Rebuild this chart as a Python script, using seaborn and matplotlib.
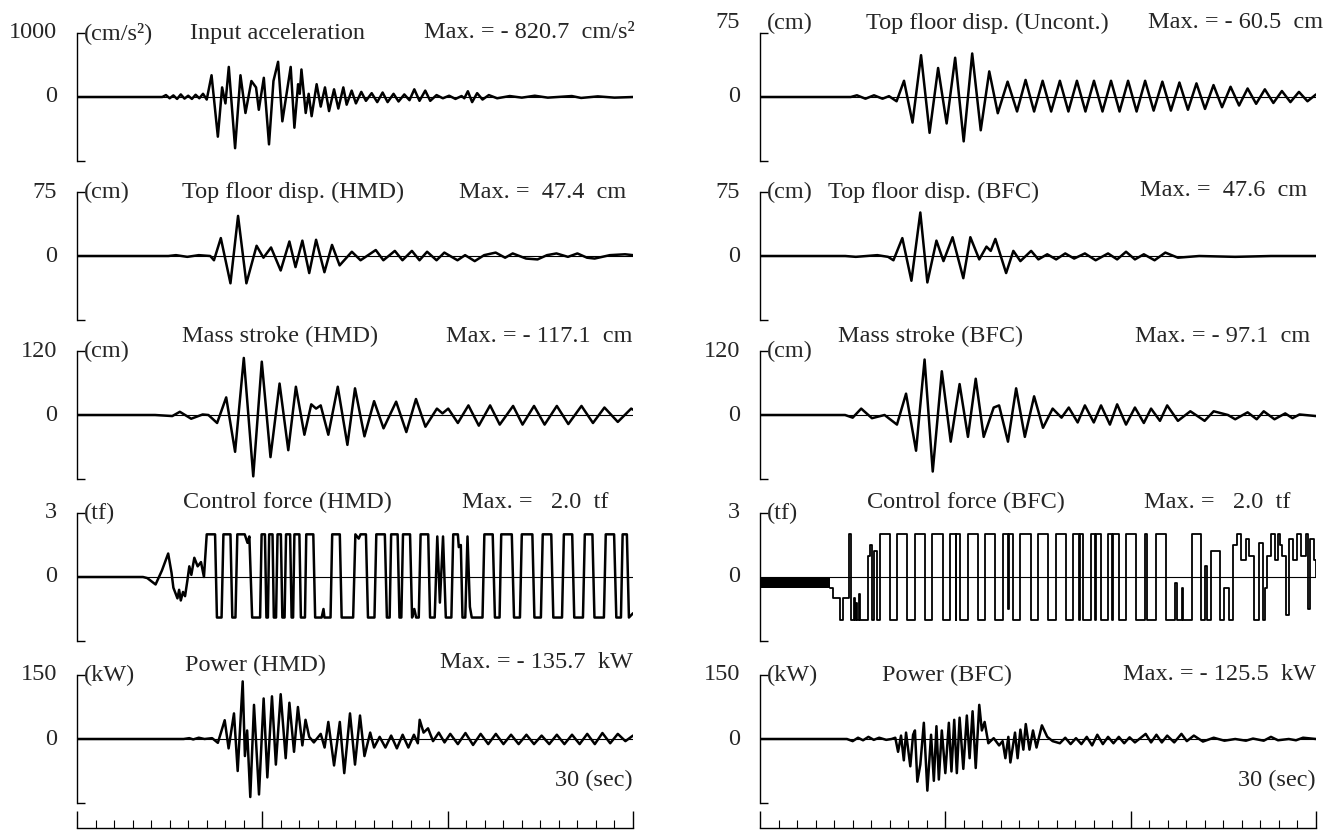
import matplotlib
matplotlib.use('Agg')
import matplotlib.pyplot as plt
import matplotlib.transforms as mtransforms
import seaborn as sns

# ─── DATA (time in sec) ──────────────────────────────────────────────────────

acc_t = [0, 4.6, 4.8, 5.0, 5.2, 5.4, 5.6, 5.8, 6.0, 6.2, 6.4, 6.6, 6.8, 7.0,
         7.26, 7.6, 7.83, 8.01, 8.19, 8.53, 8.82, 9.09, 9.41, 9.66, 9.81, 10.08,
         10.36, 10.6, 10.85, 11.08, 11.53, 11.73, 11.93, 12.02, 12.11, 12.34, 12.5,
         12.66, 12.93, 13.15, 13.38, 13.6, 13.87, 14.1, 14.37, 14.55, 14.82, 15.05,
         15.34, 15.59, 15.9, 16.2, 16.49, 16.76, 17.08, 17.35, 17.66, 17.94, 18.2,
         18.48, 18.79, 19.06, 19.4, 19.74, 20.08, 20.42, 20.75, 20.9, 21.09, 21.32,
         21.59, 21.88, 22.22, 22.67, 23.35, 24.0, 24.7, 25.4, 26.7, 27.2, 28.1,
         29.0, 30.0]
acc_v = [0, 0, 30, -20, 25, -30, 40, -25, 20, -30, 35, -20, 50, -40,
         340, -620, 150, -100, 470, -800, 340, -250, 250, 150, -200, 300,
         -740, 250, 550, -380, 470, -480, 200, 50, 430, -250, 50,
         -300, 200, -150, 150, -220, 120, -180, 150, -120, 100, -100,
         80, -60, 60, -80, 70, -80, 50, -70, 40, -50, 120,
         -60, 100, -60, 30, -20, 20, -30, 15, -20, 90, -80,
         60, -40, 30, -20, 15, -10, 20, -10, 15, -15, 10,
         -10, 0]

unc_t = [0, 4.9, 5.23, 5.69, 6.15, 6.61, 6.96, 7.37, 7.77, 8.23, 8.69, 9.15,
         9.61, 10.07, 10.53, 10.99, 11.45, 11.91, 12.37, 12.83, 13.36, 13.87,
         14.33, 14.79, 15.25, 15.71, 16.18, 16.64, 17.1, 17.56, 18.02, 18.48,
         18.94, 19.4, 19.86, 20.32, 20.78, 21.24, 21.71, 22.17, 22.63, 23.09,
         23.55, 24.01, 24.47, 24.93, 25.39, 25.85, 26.31, 26.77, 27.24, 27.7,
         28.16, 28.62, 29.08, 29.54, 30.0]
unc_v = [0, 0, 2, -2, 2, -2, 1, -5, 19, -30, 49, -42,
         34, -31, 46, -52, 51, -39, 30, -19, 18, -17,
         20, -17, 19, -17, 19, -17, 19, -17, 19, -17,
         19, -17, 19, -17, 19, -16, 18, -16, 17, -15,
         16, -14, 14, -12, 12, -10, 10, -8, 9, -7,
         7, -6, 6, -5, 3]

hmd_disp_t = [0, 4.93, 5.34, 5.95, 6.57, 7.19, 7.39, 7.76, 8.28, 8.69, 9.14,
              9.69, 10.06, 10.47, 10.99, 11.46, 11.79, 12.16, 12.53, 12.9, 13.35,
              13.76, 14.17, 14.83, 15.3, 16.12, 16.53, 17.15, 17.56, 18.07, 18.48,
              18.89, 19.4, 19.82, 20.53, 20.94, 21.46, 21.97, 22.59, 23.1, 23.51,
              24.23, 24.85, 25.36, 25.87, 26.49, 27.0, 27.52, 27.93, 28.75, 29.57,
              30.0]
hmd_disp_v = [0, 0, 1, -1, 1, 0, -5, 21, -32, 47, -32,
              12, -2, 10, -17, 17, -13, 18, -20, 19, -19,
              13, -11, 5, -5, 7, -5, 6, -5, 6, -5,
              5, -5, 4, -5, 1, -6, 1, 4, -2, 3,
              -3, -4, 1, 3, -1, 3, -2, -3, 1, 2,
              1]

bfc_disp_t = [0, 4.6, 5.17, 6.33, 6.91, 7.2, 7.68, 8.17, 8.65, 9.03, 9.52,
              9.9, 10.39, 10.97, 11.35, 11.83, 12.22, 12.45, 12.7, 13.28, 13.67,
              14.05, 14.63, 15.02, 15.5, 15.98, 16.47, 16.95, 17.53, 18.11, 18.78,
              19.27, 19.75, 20.23, 20.71, 21.29, 21.87, 22.55, 23.7, 25.64, 27.57,
              30.0]
bfc_disp_v = [0, 0, -1, 1, -1, -5, 21, -29, 51, -31, 18,
              -6, 22, -26, 22, -4, 11, 6, 20, -20, 6,
              -6, 6, -4, 2, -4, 3, -3, 3, -5, 3,
              -4, 5, -4, 2, -5, 4, -2, 0, -1, 0,
              0]

hmd_stroke_t = [0, 4.21, 5.14, 5.55, 6.16, 6.78, 7.09, 7.56, 8.05, 8.53, 9.0,
                9.51, 9.97, 10.44, 10.93, 11.4, 11.81, 12.27, 12.64, 12.9, 13.15,
                13.56, 14.07, 14.59, 15.0, 15.51, 16.03, 16.54, 17.22, 17.77, 18.29,
                18.8, 19.42, 19.72, 20.03, 20.55, 21.12, 21.68, 22.29, 22.81, 23.53,
                24.04, 24.66, 25.23, 25.89, 26.51, 27.22, 27.84, 28.46, 29.18, 29.9,
                30.0]
hmd_stroke_v = [0, 0, -2, 6, -7, 1, 0, -15, 33, -69, 107,
                -115, 100, -79, 59, -66, 53, -37, 20, 12, 18,
                -37, 53, -56, 50, -40, 26, -25, 25, -32, 30,
                -22, 12, 3, 12, -15, 18, -20, 18, -18, 17,
                -18, 17, -18, 17, -17, 17, -15, 14, -13, 12,
                10]

bfc_stroke_t = [0, 4.59, 5.0, 5.46, 6.04, 6.72, 7.39, 7.88, 8.42, 8.88, 9.32,
                9.81, 10.29, 10.77, 11.22, 11.64, 12.07, 12.61, 12.9, 13.38, 13.82,
                14.29, 14.79, 15.27, 15.79, 16.27, 16.66, 17.14, 17.53, 18.01, 18.4,
                18.88, 19.27, 19.75, 20.23, 20.71, 21.1, 21.58, 21.97, 22.55, 23.22,
                23.99, 24.48, 25.25, 25.64, 26.31, 26.8, 27.18, 27.76, 28.34, 28.73,
                29.11, 30.0]
bfc_stroke_v = [0, 0, -5, 12, -6, 0, -18, 40, -67, 104, -106,
                82, -50, 58, -41, 68, -41, 14, 18, -50, 50,
                -41, 35, -24, 12, -5, 14, -14, 18, -14, 18,
                -18, 20, -18, 14, -15, 12, -11, 18, -11, 7,
                -11, 7, 0, -8, 5, -8, 7, -8, 3, -6,
                1, -2]

hmd_force_t = [0, 3.56, 3.79, 4.24, 4.58, 4.92, 5.1, 5.2, 5.33, 5.42, 5.51, 5.6,
               5.72, 5.83, 5.95, 6.06, 6.17, 6.33, 6.51, 6.69, 6.85,
               7.0, 7.45, 7.55, 7.8, 7.9, 8.28, 8.38, 8.55, 8.65, 9.05, 9.2, 9.3,
               9.45, 9.88, 9.96, 10.14, 10.22, 10.3, 10.37, 10.55, 10.62, 10.74,
               10.82, 11.0, 11.08, 11.2, 11.28, 11.5, 11.58, 11.66, 11.73, 12.0,
               12.08, 12.3, 12.37, 12.75, 12.85, 13.2, 13.3, 13.35, 13.68, 13.77,
               14.18, 14.28, 14.9, 15.02, 15.2, 15.3, 15.59, 15.7, 16.05, 16.15,
               16.61, 16.72, 16.87, 16.95, 17.3, 17.4, 17.5, 17.59, 17.97, 18.08,
               18.2, 18.3, 18.44, 18.54, 18.95, 19.05, 19.3, 19.44, 19.58, 19.75,
               19.9, 20.2, 20.3, 20.55, 20.6, 20.71, 20.8, 20.95, 21.07, 21.2,
               21.3, 21.88, 21.98, 22.43, 22.55, 22.8, 22.89, 23.46, 23.58, 23.9,
               24.0, 24.57, 24.68, 25.03, 25.13, 25.59, 25.7, 26.17, 26.27, 26.72,
               26.83, 27.3, 27.4, 27.81, 27.92, 28.43, 28.53, 28.98, 29.1, 29.35,
               29.44, 29.67, 29.78, 30.0]
hmd_force_v = [0, 0, -0.05, -0.35, 0.3, 1.1, 0.2, -0.5, -0.8, -1.0, -0.6, -1.1,
               -0.7, -0.9, -0.2, 0.5, 0.1, 0.9, 0.5, 0.7, 0.0,
               2.0, 2.0, -1.9, -1.9, 2.0, 2.0, -1.9, -1.9, 2.0, 2.0, 1.6, 1.9,
               -1.9, -1.9, 2.0, 2.0, -1.9, -1.9, 2.0, 2.0, -1.9, -1.9,
               2.0, 2.0, -1.9, -1.9, 2.0, 2.0, -1.9, -1.9, 2.0, 2.0,
               -1.9, -1.9, 2.0, 2.0, -1.9, -1.9, -1.5, -1.9, -1.9, 2.0,
               2.0, -1.9, -1.9, 2.0, 1.8, 2.0, 2.0, -1.9, -1.9, 2.0,
               2.0, -1.9, -1.9, 2.0, 2.0, -1.9, -1.9, 2.0, 2.0, -1.9,
               -1.5, -1.9, -1.9, 2.0, 2.0, -1.9, -1.9, 1.9, -1.2, 1.9,
               -1.9, -1.9, 2.0, 2.0, 1.4, 1.5, -1.9, -1.9, 1.9, -1.4,
               -1.9, -1.9, 2.0, 2.0, -1.9, -1.9, 2.0, 2.0, -1.9, -1.9,
               2.0, 2.0, -1.9, -1.9, 2.0, 2.0, -1.9, -1.9, 2.0, 2.0,
               -1.9, -1.9, 2.0, 2.0, -1.9, -1.9, 2.0, 2.0, -1.9, -1.9,
               2.0, 2.0, -1.9, -1.7]

# BFC force is a switched signal; before 3.75 s it chatters in a dark band
bfc_band_t = [0, 3.75]
bfc_band_lo = [-0.5, -0.5]
bfc_force_t = [3.75, 3.95, 4.3, 4.5, 4.8, 4.9, 5.05, 5.1, 5.2, 5.25, 5.35, 5.4,
               5.85, 5.95, 6.05, 6.15, 6.3, 6.45, 7.0, 7.4, 7.95, 8.35, 8.9, 9.3,
               9.85, 10.25, 10.55, 10.6, 10.8, 11.2, 11.75, 12.15, 12.7, 13.1, 13.4,
               13.45, 13.65, 14.05, 14.6, 15.0, 15.55, 15.95, 16.5, 16.9, 17.2, 17.25,
               17.45, 17.85, 18.1, 18.15, 18.4, 18.8, 19.0, 19.05, 19.35, 19.75, 20.3,
               20.75, 20.88, 21.34, 21.92, 22.4, 22.5, 22.75, 22.85, 23.31, 23.77,
               24.0, 24.1, 24.35, 24.81, 25.05, 25.28, 25.51, 25.74, 25.97, 26.2,
               26.4, 26.67, 26.9, 27.13, 27.25, 27.36, 27.59, 27.78, 27.94, 28.06,
               28.17, 28.4, 28.52, 28.75, 28.98, 29.21, 29.44, 29.56, 29.68, 29.91,
               30.0]
bfc_force_v = [-0.5, -1.0, -2.0, -1.0, 2.0, -2.0, -1.0, -2.0, -1.2, -2.0, -0.8, -2.0,
               1.0, 1.5, -2.0, 1.2, -2.0, 2.0, -2.0, 2.0, -2.0, 2.0, -2.0, 2.0,
               -2.0, 2.0, -2.0, 2.0, -2.0, 2.0, -2.0, 2.0, -2.0, 2.0, -1.5,
               2.0, -2.0, 2.0, -2.0, 2.0, -2.0, 2.0, -2.0, 2.0, -2.0, 2.0,
               -2.0, 2.0, -2.0, 2.0, -2.0, 2.0, -2.0, 2.0, -2.0, 2.0, -2.0,
               2.0, -2.0, 2.0, -2.0, -0.3, -2.0, -0.5, -2.0, 2.0, -2.0,
               0.5, -2.0, 1.2, -2.0, -0.5, -2.0, 1.5, 2.0, 0.8, 1.8,
               1.0, -2.0, 1.6, -2.0, -0.5, 1.0, 2.0, 0.8, 2.0, 1.5,
               1.0, -1.8, 1.8, 0.8, 2.0, 1.0, 2.0, -1.5, 1.8, 0.8,
               0.0]

hmd_power_t = [0, 5.75, 6.06, 6.27, 6.57, 6.88, 7.29, 7.6, 7.97, 8.18, 8.47, 8.67,
               8.94, 9.06, 9.18, 9.35, 9.55, 9.82, 10.07, 10.27, 10.52, 10.73, 10.99,
               11.26, 11.46, 11.71, 11.92, 12.16, 12.33, 12.53, 12.78, 13.15, 13.36,
               13.56, 13.87, 14.18, 14.42, 14.73, 15.0, 15.27, 15.51, 15.82, 16.03,
               16.33, 16.64, 16.95, 17.26, 17.57, 17.88, 18.18, 18.39, 18.49, 18.7,
               18.94, 19.21, 19.52, 19.83, 20.14, 20.55, 20.96, 21.37, 21.78, 22.19,
               22.6, 23.01, 23.42, 23.83, 24.25, 24.66, 25.07, 25.48, 25.89, 26.3,
               26.71, 27.12, 27.53, 27.94, 28.35, 28.77, 29.18, 29.59, 30.0]
hmd_power_v = [0, 0, 2, -1, 3, 0, 2, -9, 44, -22, 60, -75,
               135, -40, 20, -136, 80, -130, 95, -90, 100, -60, 105,
               -45, 85, -30, 75, -15, 45, 5, -8, 12, -20,
               40, -62, 40, -80, 60, -60, 55, -40, 15, -20,
               5, -20, 8, -22, 10, -20, 10, -10, 45, 15,
               25, -5, 15, -8, 12, -12, 14, -14, 12, -12,
               12, -12, 10, -12, 10, -12, 8, -12, 10, -12,
               10, -12, 12, -12, 14, -10, 12, -5, 8]

bfc_power_t = [0, 4.69, 5.0, 5.29, 5.56, 5.85, 6.14, 6.43, 6.81, 7.1, 7.3, 7.45,
               7.61, 7.76, 7.88, 8.11, 8.26, 8.36, 8.49, 8.65, 8.84, 9.03, 9.23,
               9.38, 9.52, 9.65, 9.81, 10.0, 10.19, 10.33, 10.48, 10.62, 10.77,
               10.97, 11.16, 11.31, 11.47, 11.64, 11.83, 11.97, 12.12, 12.32, 12.61,
               12.9, 13.09, 13.24, 13.4, 13.51, 13.76, 13.9, 14.05, 14.21, 14.34,
               14.54, 14.73, 14.92, 15.21, 15.5, 15.79, 16.18, 16.47, 16.76, 17.05,
               17.34, 17.63, 17.92, 18.2, 18.5, 18.78, 19.07, 19.36, 19.65, 19.94,
               20.23, 20.81, 21.1, 21.39, 21.68, 21.97, 22.35, 22.74, 23.03, 23.41,
               23.9, 24.48, 25.06, 25.64, 26.22, 26.6, 27.18, 27.57, 27.95, 28.53,
               28.92, 29.3, 30.0]
bfc_power_v = [0, 0, -5, 3, -3, 5, -2, 3, -2, 0, 3, -30,
               8, -50, 15, -64, 10, 20, -100, -60, 38, -121, 10,
               -98, 30, -95, 20, -80, 38, -76, 45, -80, 50,
               -70, 55, -45, 65, -68, 80, 20, 40, -10, 2,
               -15, -5, -45, 5, -55, 15, -45, 22, -25, 35,
               -25, 20, -20, 32, 5, -5, -10, 3, -12, 2,
               -12, 5, -15, 10, -12, 5, -10, 5, -10, 4,
               -8, 12, -8, 10, -8, 8, -8, 12, -5, 8,
               -6, 3, -4, 0, -4, 1, -4, 5, -3, 0,
               -3, 3, 0]

# ─── LAYOUT (pixels of the 1333x830 picture) ─────────────────────────────────

W, H = 1333, 830
COL_X = [77, 760]
PANEL_W = 556
ZEROS = [97, 256, 415, 577, 739]
HALF = 64

panels = [
    # col, row, t, v, ymax, top label, unit, title, title x, title dy, max text, max x, max dy
    (0, 0, acc_t, acc_v, 1000, '1000', '(cm/s²)', 'Input acceleration', 190, 0,
     'Max. = - 820.7  cm/s²', 635, 0),
    (0, 1, hmd_disp_t, hmd_disp_v, 75, '75', '(cm)', 'Top floor disp. (HMD)', 182, 0,
     'Max. =  47.4  cm', 626, 0),
    (0, 2, hmd_stroke_t, hmd_stroke_v, 120, '120', '(cm)', 'Mass stroke (HMD)', 182, 15,
     'Max. = - 117.1  cm', 632, 15),
    (0, 3, hmd_force_t, hmd_force_v, 3, '3', '(tf)', 'Control force (HMD)', 183, 11,
     'Max. =   2.0  tf', 608, 11),
    (0, 4, hmd_power_t, hmd_power_v, 150, '150', '(kW)', 'Power (HMD)', 185, 10,
     'Max. = - 135.7  kW', 633, 13),
    (1, 0, unc_t, unc_v, 75, '75', '(cm)', 'Top floor disp. (Uncont.)', 866, 10,
     'Max. = - 60.5  cm', 1323, 10),
    (1, 1, bfc_disp_t, bfc_disp_v, 75, '75', '(cm)', 'Top floor disp. (BFC)', 828, 0,
     'Max. =  47.6  cm', 1307, 2),
    (1, 2, bfc_stroke_t, bfc_stroke_v, 120, '120', '(cm)', 'Mass stroke (BFC)', 838, 15,
     'Max. = - 97.1  cm', 1310, 15),
    (1, 3, bfc_force_t, bfc_force_v, 3, '3', '(tf)', 'Control force (BFC)', 867, 11,
     'Max. =   2.0  tf', 1290, 11),
    (1, 4, bfc_power_t, bfc_power_v, 150, '150', '(kW)', 'Power (BFC)', 882, 0,
     'Max. = - 125.5  kW', 1316, 0),
]

# ─── DRAW ────────────────────────────────────────────────────────────────────

sns.set_theme(style='white')
plt.rcParams['font.family'] = ['Liberation Serif', 'DejaVu Serif']
FS = 17.5

fig = plt.figure(figsize=(W / 100, H / 100), dpi=100)
px = lambda d: d / 100.0  # pixel -> inch at dpi 100

for col, row, t, v, ymax, top_lab, unit, title, tx, tdy, mtxt, mx, mdy in panels:
    x0 = COL_X[col]
    z = ZEROS[row]
    ax = fig.add_axes([x0 / W, 1 - (z + HALF) / H, PANEL_W / W, 2 * HALF / H])
    ax.set_xlim(0, 30)
    ax.set_ylim(-ymax, ymax)
    ax.patch.set_alpha(0)
    for side in ['top', 'right', 'bottom']:
        ax.spines[side].set_visible(False)
    ax.spines['left'].set_color('black')
    ax.spines['left'].set_linewidth(1.0)
    ax.set_xticks([])
    ax.set_yticks([-ymax, ymax])
    ax.tick_params(axis='y', direction='in', length=6, width=1.0,
                   colors='black', labelleft=False, left=True)

    ax.axhline(0, color='black', lw=0.8, zorder=1)

    if col == 1 and row == 3:
        ax.fill_between(bfc_band_t, bfc_band_lo, 0, color='black', lw=0, zorder=2)
        sns.lineplot(x=t, y=v, ax=ax, color='black', lw=1.3, estimator=None,
                     sort=False, drawstyle='steps-post', zorder=3)
    else:
        sns.lineplot(x=t, y=v, ax=ax, color='black', lw=1.8, estimator=None,
                     sort=False, zorder=3)
    ax.set_xlabel('')
    ax.set_ylabel('')

    ytr = ax.get_yaxis_transform()
    top_dy = tdy if row == 0 and col == 1 else 0
    lab_tr = ytr + mtransforms.ScaledTranslation(-px(20), px(top_dy), fig.dpi_scale_trans)
    ax.text(0, ymax, top_lab, transform=lab_tr, ha='right', va='center', fontsize=FS)
    zero_tr = ytr + mtransforms.ScaledTranslation(-px(20), 0, fig.dpi_scale_trans)
    ax.text(0, 0, '0', transform=zero_tr, ha='right', va='center', fontsize=FS)

    unit_tr = ytr + mtransforms.ScaledTranslation(px(7), px(top_dy), fig.dpi_scale_trans)
    ax.text(0, ymax, unit, transform=unit_tr, ha='left', va='center', fontsize=FS)

    title_tr = ytr + mtransforms.ScaledTranslation(0, px(tdy), fig.dpi_scale_trans)
    ax.text((tx - x0) / PANEL_W, ymax, title, transform=title_tr,
            ha='left', va='center', fontsize=FS)
    max_tr = ytr + mtransforms.ScaledTranslation(0, px(mdy), fig.dpi_scale_trans)
    ax.text((mx - x0) / PANEL_W, ymax, mtxt, transform=max_tr,
            ha='right', va='center', fontsize=FS)

    if row == 4:
        ax.text(1.0, 0.18, '30 (sec)', transform=ax.transAxes,
                ha='right', va='center', fontsize=FS)

# time rulers along the bottom
for x0 in COL_X:
    axr = fig.add_axes([x0 / W, 1 - 828 / H, PANEL_W / W, 14 / H])
    axr.set_xlim(0, 30)
    axr.patch.set_alpha(0)
    for side in ['top', 'right', 'left']:
        axr.spines[side].set_visible(False)
    axr.spines['bottom'].set_color('black')
    axr.spines['bottom'].set_linewidth(1.0)
    axr.set_yticks([])
    axr.set_xticks(range(0, 31, 10))
    axr.set_xticks(range(0, 31), minor=True)
    axr.tick_params(axis='x', which='major', direction='in', length=12, width=1.0,
                    colors='black', labelbottom=False, bottom=True)
    axr.tick_params(axis='x', which='minor', direction='in', length=6, width=0.8,
                    colors='black', bottom=True)

fig.savefig('out.png', dpi=100, facecolor='white')
